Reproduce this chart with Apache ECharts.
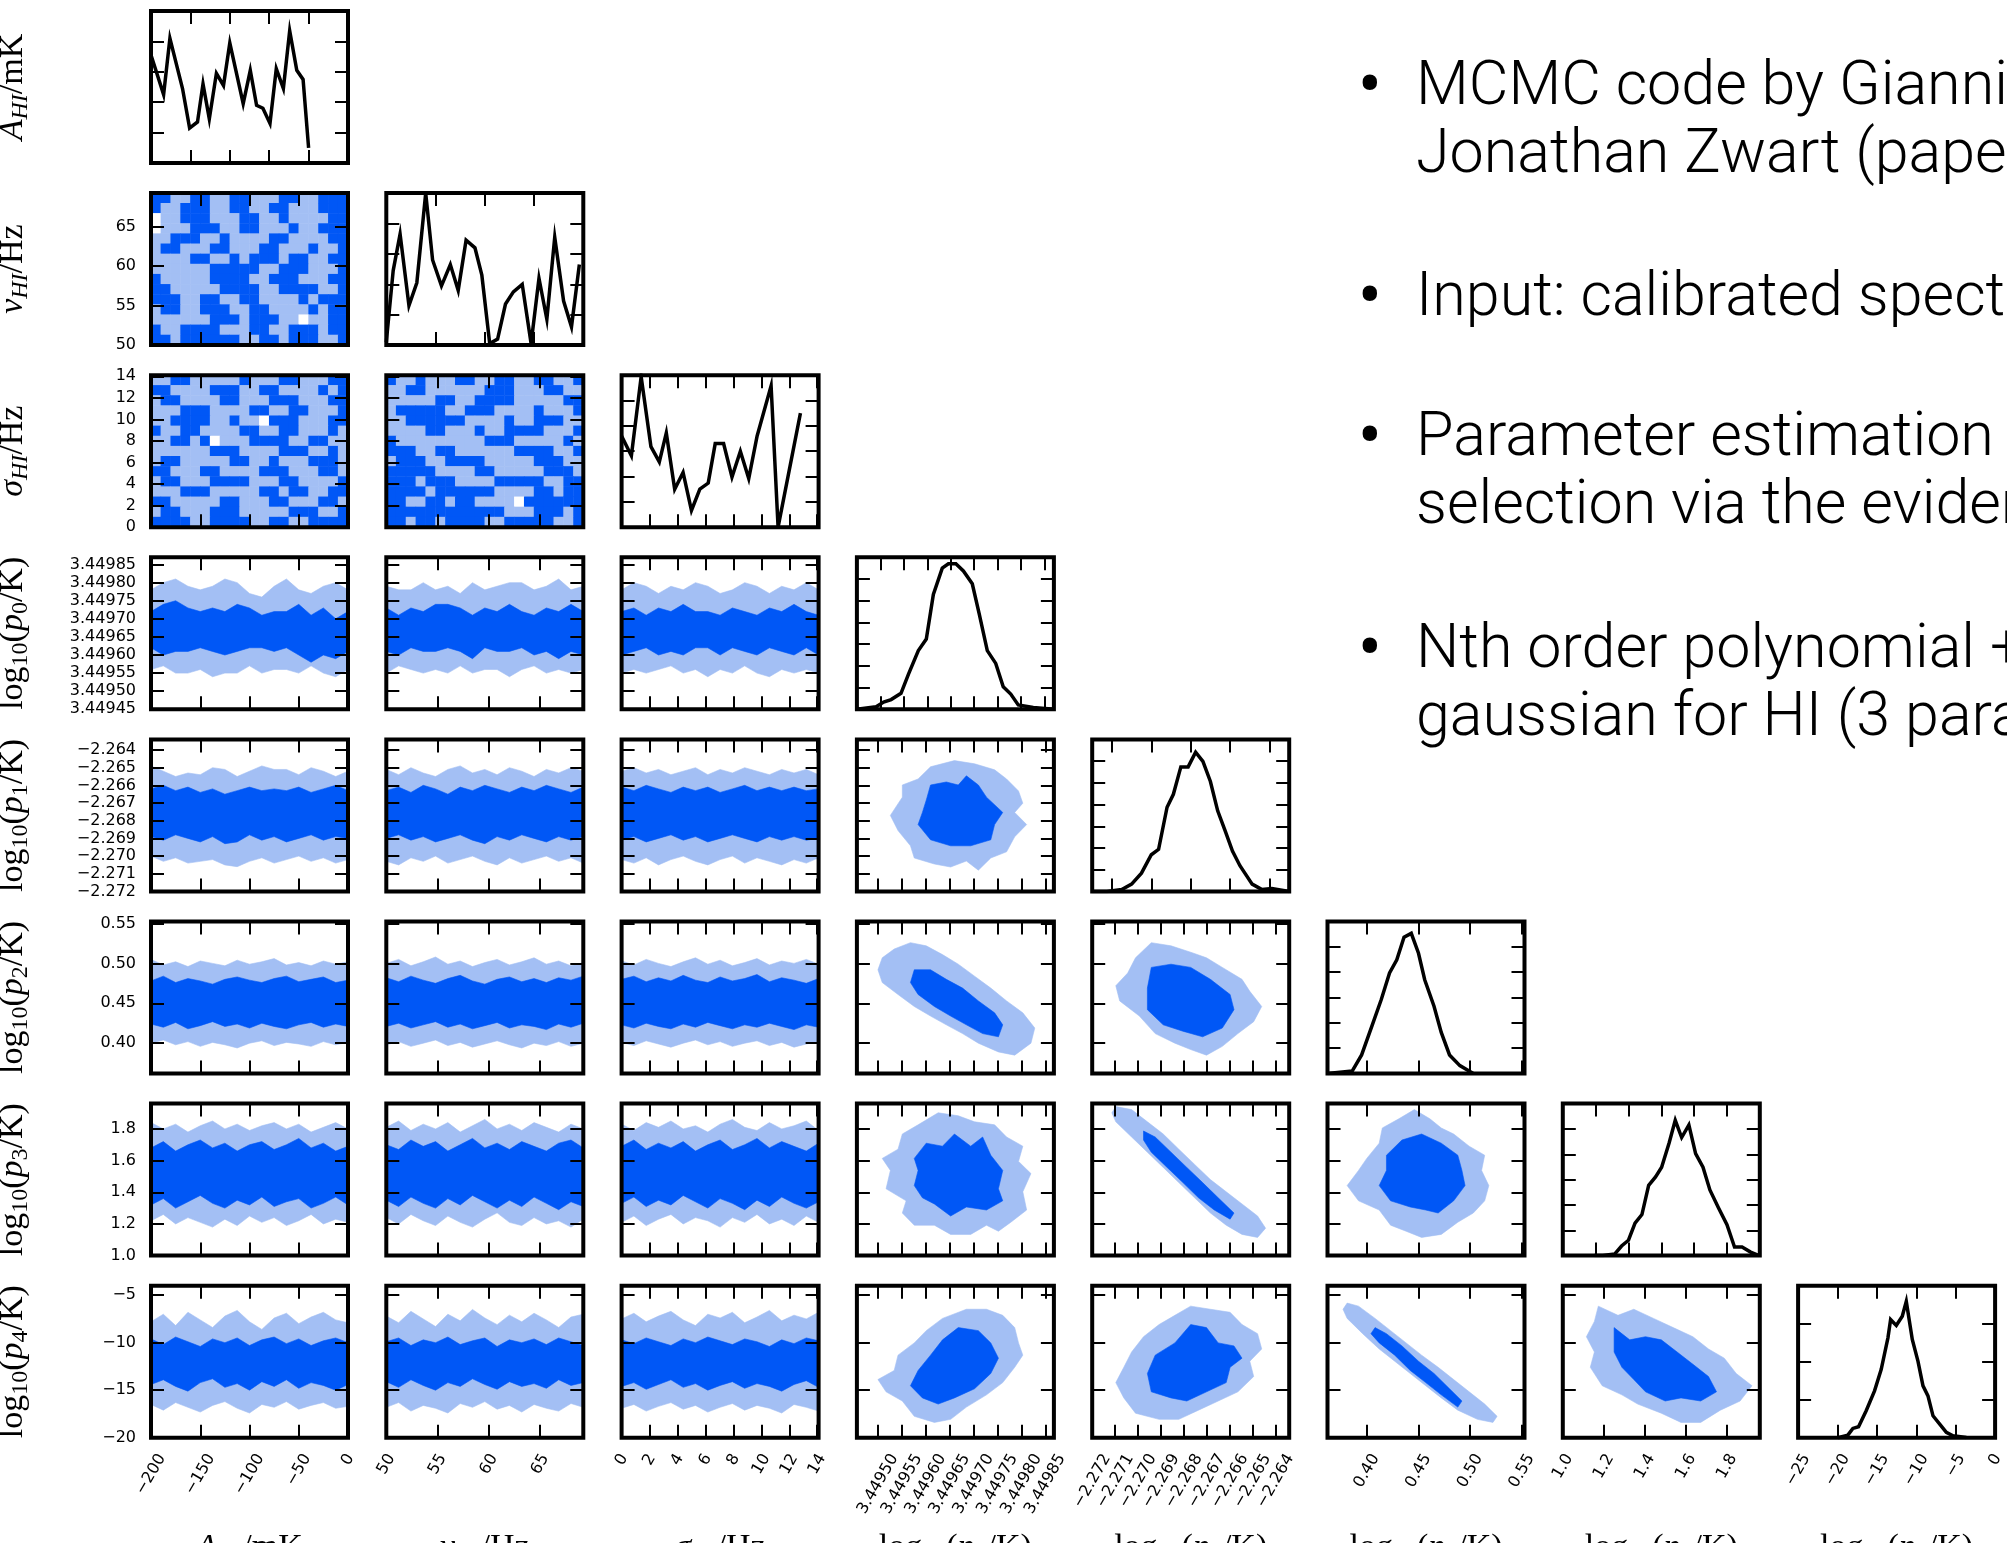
<!DOCTYPE html>
<html>
<head>
<meta charset="utf-8">
<script src="https://cdn.jsdelivr.net/npm/echarts@6/dist/echarts.min.js"></script>
<style>
html, body { margin: 0; padding: 0; background: #fff; }
#c { width: 2007px; height: 1543px; }
</style>
</head>
<body>
<div id="c"></div>
<script>
// ------------------------------------------------------------------
// Posterior triangle plot: HI line (A, nu, sigma) + 5 polynomial terms
// ------------------------------------------------------------------

// Axis ticks / labels (values in parameter units)
const ticksA      = [-200, -150, -100, -50, 0];
const ticksAHist  = [-150, -100, -50, 0];
const ticksNu     = [50, 55, 60, 65];
const ticksSigma  = [0, 2, 4, 6, 8, 10, 12, 14];
const ticksP0     = [3.44945, 3.4495, 3.44955, 3.4496, 3.44965, 3.4497, 3.44975, 3.4498, 3.44985];
const ticksP0x    = [3.4495, 3.44955, 3.4496, 3.44965, 3.4497, 3.44975, 3.4498, 3.44985];
const ticksP1     = [-2.272, -2.271, -2.27, -2.269, -2.268, -2.267, -2.266, -2.265, -2.264];
const ticksP1Hist = [-2.272, -2.27, -2.268, -2.266, -2.264];
const ticksP2     = [0.4, 0.45, 0.5, 0.55];
const ticksP3     = [1.0, 1.2, 1.4, 1.6, 1.8];
const ticksP4     = [-20, -15, -10, -5];
const ticksP4Hist = [-25, -20, -15, -10, -5, 0];

// Marginal (1D) posteriors, heights relative to panel height
const histAmp = [[-200,0.71],[-184,0.45],[-176,0.82],[-160,0.49],[-151,0.23],[-141,0.27],[-134,0.52],[-126,0.29],[-117,0.59],[-108,0.51],[-100,0.79],[-83,0.39],[-74,0.61],[-66,0.38],[-58,0.36],[-49,0.26],[-41,0.62],[-32,0.49],[-24,0.87],[-15,0.61],[-7,0.55],[0,0.10]];
const histNu = [[50,0.02],[50.7,0.49],[51.4,0.73],[52.3,0.26],[53.1,0.41],[54.0,1.0],[54.7,0.56],[55.6,0.39],[56.5,0.53],[57.3,0.36],[58.1,0.69],[59.0,0.64],[59.7,0.46],[60.5,0.01],[61.3,0.04],[62.1,0.27],[62.9,0.35],[63.8,0.40],[64.7,0.01],[65.5,0.44],[66.3,0.17],[67.1,0.71],[68.0,0.29],[68.8,0.12],[69.6,0.53]];
const histSigma = [[0,0.60],[0.7,0.47],[1.4,0.99],[2.1,0.53],[2.7,0.43],[3.2,0.62],[3.8,0.25],[4.4,0.36],[5.0,0.11],[5.6,0.25],[6.2,0.29],[6.7,0.55],[7.3,0.55],[7.9,0.33],[8.5,0.50],[9.1,0.32],[9.7,0.60],[10.7,0.93],[11.2,0.0],[12.8,0.75]];
const histP0 = [[3.44945,0.0],[3.449491,0.017],[3.449507,0.048],[3.449523,0.064],[3.449544,0.105],[3.44956,0.231],[3.449581,0.386],[3.449598,0.462],[3.449613,0.755],[3.449632,0.929],[3.449645,0.957],[3.449661,0.957],[3.449677,0.91],[3.449696,0.826],[3.449711,0.624],[3.449728,0.386],[3.449746,0.302],[3.449762,0.148],[3.449778,0.1],[3.449794,0.029],[3.449826,0.012],[3.44987,0]];
const histP1 = [[-2.273,0],[-2.27225,0],[-2.2715,0.012],[-2.271,0.048],[-2.2705,0.12],[-2.27,0.241],[-2.26963,0.277],[-2.2692,0.554],[-2.26888,0.639],[-2.2685,0.819],[-2.26813,0.819],[-2.26775,0.916],[-2.26738,0.855],[-2.267,0.723],[-2.26663,0.53],[-2.26625,0.398],[-2.26588,0.265],[-2.2655,0.169],[-2.26488,0.048],[-2.26438,0.012],[-2.26388,0.019],[-2.263,0]];
const histP2 = [[0.362,0],[0.386,0.017],[0.395,0.122],[0.405,0.313],[0.414,0.487],[0.422,0.661],[0.429,0.748],[0.436,0.896],[0.443,0.922],[0.45,0.791],[0.456,0.617],[0.465,0.443],[0.472,0.27],[0.48,0.122],[0.49,0.052],[0.503,0]];
const histP3 = [[0.992,0],[1.044,0],[1.117,0.011],[1.158,0.063],[1.2,0.101],[1.24,0.214],[1.282,0.27],[1.323,0.462],[1.365,0.518],[1.402,0.581],[1.448,0.743],[1.485,0.89],[1.524,0.777],[1.568,0.86],[1.609,0.671],[1.654,0.581],[1.696,0.432],[1.748,0.315],[1.8,0.203],[1.846,0.056],[1.892,0.056],[1.944,0.023],[1.996,0]];
const histP4 = [[-19.96,0],[-18.69,0.017],[-18.05,0.061],[-17.33,0.072],[-16.36,0.177],[-15.3,0.308],[-14.45,0.45],[-13.6,0.657],[-13.26,0.777],[-12.54,0.738],[-11.78,0.799],[-11.27,0.897],[-10.51,0.646],[-9.79,0.504],[-9.15,0.341],[-8.52,0.275],[-7.88,0.144],[-7.03,0.09],[-6.19,0.035],[-5.34,0.013],[-3.64,0.002]];

// 2D posteriors of the flat-prior line parameters: 0 = outside, 1 = 95%, 2 = 68% (rows top to bottom)
const levelsNuA = [
  "22112211221112211222","21122211221122111222","01122211122112111122","01112221122111211222",
  "11222112111122111122","12211122111221112112","11112211212221221122","11111122222112221112",
  "21111122221122211122","22111112222112222112","22211221122111121222","12211222112211112122",
  "11111122212221101122","21122221112211222122","22122222211221222112"];
const levelsSigmaA = [
  "11221111121112211122","22111122211221111212","12211112211122211122","11122211112211221112",
  "11222211211022211122","21122111122112211121","11221201112222112211","11111122211112221121",
  "12211111221121112221","22111221111222111221","12211122221112211112","11122211111221221122",
  "22111112211122111221","12211122211111222112","22221122221122112222"];
const levelsSigmaNu = [
  "21121112211221122112","11221111112221112211","11111221122221111122","12222211222111121112",
  "11222222111121122211","11112211121122221112","21111111112221111121","22211221111112222112",
  "12221122221111122211","22222111122111112221","22212221111222221122","22221222222111122122",
  "22112212211110222222","22222222222211122212","22122122221122222112"];

// x positions at which the credible-band edges are tabulated
const xSampleA     = [-200,-187.5,-175,-162.5,-150,-137.5,-125,-112.5,-100,-87.5,-75,-62.5,-50,-37.5,-25,-12.5,0];
const xSampleNu    = [50,51.2,52.4,53.6,54.8,56,57.2,58.4,59.6,60.8,62,63.2,64.4,65.6,66.8,68,69.2];
const xSampleSigma = [0,0.88,1.76,2.64,3.53,4.41,5.29,6.17,7.05,7.93,8.81,9.69,10.58,11.46,12.34,13.22,14.1];

// Band edges: [95% upper, 68% upper, 68% lower, 95% lower]
const bandP0_A = [
  [3.44978,3.4498,3.44981,3.44979,3.44978,3.44979,3.44981,3.4498,3.44977,3.44976,3.44979,3.44981,3.44978,3.44977,3.44979,3.4498,3.44978],
  [3.44972,3.44974,3.44975,3.44973,3.44972,3.44973,3.44972,3.44974,3.44973,3.44971,3.44972,3.44972,3.44974,3.44971,3.44973,3.4497,3.44972],
  [3.44962,3.4496,3.44961,3.44961,3.44962,3.44961,3.4496,3.44961,3.44962,3.44962,3.44961,3.44962,3.4496,3.44958,3.4496,3.44959,3.44961],
  [3.44956,3.44957,3.44955,3.44955,3.44956,3.44954,3.44955,3.44955,3.44957,3.44955,3.44956,3.44956,3.44955,3.44957,3.44955,3.44954,3.44956]];
const bandP0_Nu = [
  [3.44979,3.44978,3.44978,3.4498,3.44978,3.44979,3.44977,3.4498,3.44978,3.44979,3.4498,3.4498,3.44978,3.44979,3.44981,3.44978,3.44979],
  [3.44973,3.44971,3.44973,3.44972,3.44974,3.44974,3.44973,3.44971,3.44973,3.44972,3.44974,3.44972,3.44971,3.44973,3.44972,3.44974,3.44972],
  [3.44961,3.4496,3.44962,3.44961,3.44961,3.44962,3.44961,3.44959,3.44962,3.44961,3.44961,3.44962,3.4496,3.44961,3.44959,3.44961,3.4496],
  [3.44955,3.44957,3.44956,3.44955,3.44956,3.44955,3.44957,3.44955,3.44956,3.44956,3.44954,3.44956,3.44957,3.44955,3.44956,3.44955,3.44956]];
const bandP0_Sigma = [
  [3.44978,3.4498,3.44979,3.44977,3.44979,3.44978,3.4498,3.44979,3.44977,3.44978,3.4498,3.44979,3.44977,3.44979,3.44978,3.4498,3.44978],
  [3.44972,3.44973,3.44971,3.44973,3.44972,3.44974,3.44972,3.44972,3.44971,3.44973,3.44972,3.44971,3.44973,3.44972,3.44974,3.44972,3.44971],
  [3.4496,3.44961,3.44962,3.4496,3.44961,3.4496,3.44962,3.44962,3.4496,3.44962,3.44961,3.4496,3.44962,3.44961,3.4496,3.44962,3.4496],
  [3.44955,3.44956,3.44955,3.44956,3.44957,3.44955,3.44956,3.44954,3.44956,3.44955,3.44957,3.44955,3.44954,3.44956,3.44955,3.44956,3.44955]];
const bandP1_A = [
  [-2.2649,-2.2652,-2.2655,-2.2653,-2.2654,-2.265,-2.2651,-2.2655,-2.2652,-2.2649,-2.2651,-2.2651,-2.2654,-2.265,-2.2652,-2.2655,-2.2652],
  [-2.2662,-2.266,-2.2663,-2.2661,-2.2664,-2.2662,-2.2665,-2.2663,-2.2661,-2.2663,-2.2662,-2.2663,-2.2661,-2.2664,-2.2662,-2.266,-2.2663],
  [-2.2689,-2.2691,-2.2688,-2.269,-2.2692,-2.2689,-2.2693,-2.2692,-2.2688,-2.2691,-2.2689,-2.2692,-2.269,-2.2688,-2.2691,-2.2689,-2.269],
  [-2.27,-2.2703,-2.2701,-2.2704,-2.2703,-2.2702,-2.2705,-2.2706,-2.2703,-2.2701,-2.2704,-2.2702,-2.27,-2.2703,-2.2701,-2.2704,-2.2702]];
const bandP1_Nu = [
  [-2.2651,-2.2654,-2.265,-2.2653,-2.2655,-2.2651,-2.2649,-2.2653,-2.2651,-2.2654,-2.265,-2.2652,-2.2655,-2.2651,-2.2653,-2.265,-2.2652],
  [-2.2663,-2.2661,-2.2664,-2.266,-2.2662,-2.2665,-2.2661,-2.2663,-2.266,-2.2662,-2.2664,-2.2661,-2.2663,-2.266,-2.2662,-2.2664,-2.2661],
  [-2.269,-2.2688,-2.2691,-2.2689,-2.2692,-2.269,-2.2688,-2.2691,-2.2693,-2.2689,-2.2691,-2.2688,-2.269,-2.2692,-2.2689,-2.2691,-2.2689],
  [-2.2703,-2.2705,-2.2701,-2.2703,-2.27,-2.2704,-2.2702,-2.27,-2.2703,-2.2705,-2.2701,-2.2704,-2.2702,-2.27,-2.2703,-2.2701,-2.2704]];
const bandP1_Sigma = [
  [-2.2652,-2.265,-2.2653,-2.2651,-2.2654,-2.2652,-2.265,-2.2654,-2.2651,-2.2653,-2.265,-2.2652,-2.2654,-2.2651,-2.2653,-2.2651,-2.2654],
  [-2.2661,-2.2663,-2.266,-2.2662,-2.2664,-2.2661,-2.2663,-2.2661,-2.2664,-2.2662,-2.266,-2.2663,-2.2661,-2.2663,-2.2661,-2.2663,-2.2662],
  [-2.2691,-2.2689,-2.2692,-2.269,-2.2688,-2.2691,-2.2689,-2.2692,-2.269,-2.2688,-2.269,-2.2692,-2.2689,-2.2691,-2.2689,-2.2691,-2.269],
  [-2.2702,-2.2704,-2.2701,-2.2705,-2.2702,-2.27,-2.2703,-2.2705,-2.2702,-2.27,-2.2704,-2.2701,-2.2703,-2.2705,-2.2702,-2.2704,-2.2701]];
const bandP2_A = [
  [0.505,0.498,0.502,0.496,0.503,0.5,0.497,0.504,0.499,0.502,0.506,0.498,0.501,0.497,0.503,0.499,0.502],
  [0.478,0.484,0.476,0.481,0.478,0.474,0.48,0.483,0.479,0.476,0.481,0.484,0.477,0.48,0.483,0.476,0.479],
  [0.424,0.42,0.426,0.418,0.422,0.427,0.421,0.424,0.419,0.425,0.421,0.418,0.423,0.426,0.42,0.424,0.421],
  [0.4,0.404,0.398,0.402,0.396,0.401,0.398,0.394,0.4,0.403,0.397,0.401,0.399,0.396,0.402,0.398,0.401]];
const bandP2_Nu = [
  [0.5,0.505,0.497,0.502,0.508,0.499,0.503,0.496,0.501,0.505,0.498,0.502,0.507,0.499,0.503,0.497,0.501],
  [0.482,0.477,0.484,0.479,0.475,0.481,0.485,0.478,0.474,0.48,0.483,0.477,0.481,0.476,0.482,0.479,0.484],
  [0.421,0.425,0.419,0.423,0.427,0.42,0.424,0.418,0.422,0.426,0.419,0.423,0.421,0.417,0.424,0.42,0.425],
  [0.398,0.402,0.396,0.4,0.404,0.397,0.401,0.395,0.399,0.403,0.398,0.394,0.4,0.397,0.402,0.396,0.4]];
const bandP2_Sigma = [
  [0.503,0.498,0.505,0.5,0.496,0.502,0.507,0.499,0.504,0.497,0.501,0.506,0.498,0.503,0.5,0.505,0.499],
  [0.48,0.484,0.477,0.482,0.478,0.485,0.479,0.476,0.483,0.478,0.481,0.486,0.477,0.482,0.479,0.475,0.481],
  [0.423,0.419,0.425,0.421,0.418,0.424,0.42,0.426,0.422,0.418,0.423,0.42,0.425,0.421,0.417,0.423,0.42],
  [0.401,0.397,0.403,0.399,0.395,0.4,0.404,0.398,0.402,0.396,0.4,0.403,0.397,0.401,0.395,0.399,0.402]];
const bandP3_A = [
  [1.84,1.8,1.83,1.78,1.82,1.85,1.8,1.83,1.79,1.82,1.84,1.8,1.83,1.78,1.81,1.84,1.8],
  [1.68,1.72,1.66,1.7,1.73,1.68,1.71,1.66,1.7,1.72,1.67,1.7,1.74,1.68,1.71,1.66,1.69],
  [1.32,1.36,1.3,1.34,1.38,1.33,1.3,1.35,1.32,1.37,1.31,1.34,1.36,1.3,1.33,1.37,1.32],
  [1.22,1.26,1.2,1.24,1.21,1.18,1.23,1.19,1.25,1.21,1.24,1.19,1.22,1.26,1.2,1.23,1.21]];
const bandP3_Nu = [
  [1.81,1.85,1.79,1.83,1.8,1.84,1.78,1.82,1.86,1.8,1.83,1.79,1.84,1.81,1.78,1.83,1.8],
  [1.7,1.67,1.73,1.69,1.72,1.66,1.7,1.74,1.68,1.71,1.67,1.72,1.69,1.66,1.71,1.73,1.68],
  [1.35,1.31,1.37,1.33,1.3,1.36,1.32,1.38,1.34,1.3,1.35,1.31,1.37,1.33,1.29,1.34,1.31],
  [1.24,1.2,1.26,1.22,1.19,1.25,1.21,1.18,1.23,1.27,1.21,1.19,1.24,1.2,1.22,1.18,1.23]];
const bandP3_Sigma = [
  [1.83,1.79,1.84,1.81,1.85,1.8,1.82,1.78,1.83,1.86,1.81,1.79,1.84,1.8,1.82,1.85,1.79],
  [1.69,1.73,1.67,1.71,1.68,1.72,1.66,1.7,1.73,1.67,1.7,1.74,1.68,1.72,1.69,1.66,1.71],
  [1.33,1.37,1.31,1.35,1.32,1.38,1.34,1.3,1.36,1.33,1.29,1.35,1.31,1.37,1.33,1.3,1.34],
  [1.21,1.25,1.19,1.23,1.26,1.2,1.24,1.22,1.18,1.24,1.21,1.26,1.2,1.23,1.19,1.25,1.21]];
const bandP4_A = [
  [-7.8,-7.0,-8.2,-6.8,-7.6,-8.4,-7.2,-6.6,-7.8,-8.6,-7.4,-6.9,-8.0,-7.3,-6.8,-7.6,-7.9],
  [-9.6,-10.2,-9.4,-9.9,-10.4,-9.6,-10.0,-9.5,-10.3,-9.7,-9.4,-10.1,-9.6,-10.3,-9.8,-9.5,-10.0],
  [-14.4,-13.9,-14.6,-15.1,-14.2,-13.8,-14.7,-14.3,-15.0,-14.1,-14.6,-13.9,-14.8,-14.2,-14.5,-15.0,-14.4],
  [-16.5,-17.1,-16.3,-16.8,-17.3,-16.6,-16.2,-16.9,-17.4,-16.5,-16.8,-16.2,-17.0,-16.6,-16.3,-16.9,-16.7]];
const bandP4_Nu = [
  [-7.2,-7.9,-6.7,-7.5,-8.3,-7.0,-7.7,-6.5,-7.4,-8.1,-7.1,-7.8,-6.9,-7.6,-8.4,-7.3,-7.0],
  [-9.9,-9.5,-10.3,-9.7,-10.0,-9.4,-10.2,-9.8,-9.5,-10.4,-9.7,-10.0,-9.6,-10.2,-9.5,-9.9,-10.3],
  [-14.1,-14.7,-13.9,-14.5,-15.0,-14.2,-14.6,-13.8,-14.4,-14.9,-14.1,-14.6,-14.3,-14.8,-13.9,-14.5,-14.2],
  [-16.8,-16.3,-17.2,-16.6,-16.9,-17.4,-16.4,-16.8,-16.2,-17.0,-16.6,-17.3,-16.5,-16.9,-17.2,-16.4,-16.8]];
const bandP4_Sigma = [
  [-7.5,-6.9,-7.8,-7.2,-6.7,-7.6,-8.2,-7.0,-7.4,-6.8,-7.9,-7.3,-6.6,-7.7,-7.1,-7.5,-6.8],
  [-9.7,-10.1,-9.5,-9.9,-10.3,-9.6,-10.0,-9.4,-9.8,-10.2,-9.6,-9.9,-10.4,-9.7,-10.1,-9.5,-9.8],
  [-14.6,-14.2,-14.9,-14.4,-13.9,-14.7,-14.3,-15.0,-14.5,-14.1,-14.8,-14.3,-14.6,-15.1,-14.4,-14.0,-14.7],
  [-16.9,-16.5,-17.2,-16.7,-16.3,-17.0,-16.6,-17.3,-16.8,-16.4,-17.1,-16.6,-16.9,-17.4,-16.5,-16.8,-17.2]];

// Credible contours between polynomial terms: [x, y] vertices (95% = light, 68% = dark)
const p1p0Light = [[3.44966,-2.2646],[3.449702,-2.26478],[3.449744,-2.26512],[3.449769,-2.26564],[3.449794,-2.26632],[3.449803,-2.26701],[3.449786,-2.26753],[3.449811,-2.26822],[3.449786,-2.26891],[3.449769,-2.26976],[3.449736,-2.27011],[3.44971,-2.2708],[3.449685,-2.27028],[3.449652,-2.27062],[3.449618,-2.27045],[3.449576,-2.27011],[3.449568,-2.26942],[3.449542,-2.26856],[3.449526,-2.2677],[3.449551,-2.26667],[3.449551,-2.26598],[3.449584,-2.26564],[3.44961,-2.26495]];
const p1p0Dark = [[3.44961,-2.26598],[3.449643,-2.26581],[3.449668,-2.26598],[3.449685,-2.26546],[3.44971,-2.26598],[3.449727,-2.26667],[3.449761,-2.26753],[3.449744,-2.26822],[3.449736,-2.26908],[3.449694,-2.26942],[3.449652,-2.26942],[3.44961,-2.26908],[3.449584,-2.26822],[3.449593,-2.26753],[3.449601,-2.26684]];
const p2p0Light = [[3.449509,0.507],[3.449534,0.518],[3.449568,0.526],[3.449601,0.522],[3.449635,0.511],[3.449668,0.499],[3.449702,0.484],[3.449736,0.469],[3.449769,0.453],[3.449803,0.438],[3.449828,0.419],[3.44982,0.4],[3.449786,0.385],[3.449752,0.389],[3.44971,0.4],[3.449677,0.412],[3.449643,0.423],[3.44961,0.434],[3.449576,0.446],[3.449542,0.461],[3.449509,0.476],[3.4495,0.492]];
const p2p0Dark = [[3.449576,0.492],[3.44961,0.492],[3.449643,0.48],[3.449677,0.469],[3.44971,0.453],[3.449744,0.438],[3.449761,0.423],[3.449752,0.408],[3.449719,0.412],[3.449685,0.423],[3.449652,0.434],[3.449618,0.446],[3.449584,0.461],[3.449568,0.476]];
const p2p1Light = [[-2.26942,0.526],[-2.26856,0.522],[-2.2677,0.514],[-2.26701,0.507],[-2.26632,0.495],[-2.26546,0.48],[-2.26512,0.465],[-2.2646,0.446],[-2.26495,0.427],[-2.26564,0.412],[-2.26632,0.396],[-2.26701,0.385],[-2.2677,0.392],[-2.26839,0.4],[-2.26925,0.412],[-2.26994,0.434],[-2.2708,0.453],[-2.27097,0.472],[-2.27045,0.488],[-2.27011,0.507]];
const p2p1Dark = [[-2.26942,0.495],[-2.26856,0.499],[-2.2677,0.495],[-2.26684,0.48],[-2.26598,0.461],[-2.26581,0.442],[-2.26632,0.419],[-2.26718,0.408],[-2.26804,0.415],[-2.2689,0.423],[-2.26959,0.442],[-2.26959,0.469]];
const p3p0Light = [[3.449626,1.902],[3.449668,1.883],[3.449702,1.845],[3.449744,1.826],[3.449769,1.749],[3.449803,1.691],[3.449794,1.595],[3.44982,1.518],[3.449803,1.403],[3.449811,1.288],[3.449778,1.211],[3.449752,1.154],[3.449727,1.192],[3.449694,1.134],[3.449652,1.134],[3.449618,1.192],[3.449576,1.192],[3.449551,1.269],[3.449559,1.346],[3.449517,1.422],[3.449526,1.538],[3.449509,1.614],[3.449542,1.672],[3.449551,1.768],[3.449584,1.826]];
const p3p0Dark = [[3.449601,1.71],[3.449635,1.691],[3.44966,1.768],[3.449694,1.691],[3.449719,1.749],[3.449736,1.634],[3.449761,1.538],[3.449752,1.422],[3.449761,1.346],[3.449727,1.288],[3.449685,1.307],[3.449652,1.25],[3.449618,1.326],[3.449593,1.365],[3.449576,1.442],[3.449584,1.538],[3.449576,1.614]];
const p3p1Light = [[-2.27097,1.941],[-2.27028,1.922],[-2.26959,1.845],[-2.2689,1.768],[-2.26822,1.672],[-2.26753,1.576],[-2.26684,1.48],[-2.26615,1.403],[-2.26546,1.326],[-2.26478,1.25],[-2.26443,1.173],[-2.26478,1.115],[-2.26546,1.134],[-2.26615,1.192],[-2.26684,1.269],[-2.26753,1.365],[-2.26822,1.461],[-2.2689,1.557],[-2.26959,1.653],[-2.27028,1.749],[-2.27097,1.845],[-2.27114,1.902]];
const p3p1Dark = [[-2.26976,1.787],[-2.26925,1.749],[-2.26856,1.653],[-2.26787,1.557],[-2.26718,1.461],[-2.2665,1.365],[-2.26581,1.269],[-2.26598,1.23],[-2.26667,1.288],[-2.26736,1.365],[-2.26804,1.461],[-2.26873,1.557],[-2.26942,1.653],[-2.26976,1.73]];
const p3p2Light = [[0.446,1.922],[0.461,1.864],[0.472,1.806],[0.484,1.768],[0.499,1.691],[0.514,1.634],[0.511,1.538],[0.518,1.442],[0.514,1.346],[0.503,1.269],[0.488,1.211],[0.472,1.134],[0.453,1.115],[0.438,1.154],[0.423,1.192],[0.412,1.288],[0.392,1.346],[0.381,1.442],[0.392,1.538],[0.4,1.614],[0.412,1.71],[0.415,1.806],[0.431,1.864]];
const p3p2Dark = [[0.434,1.73],[0.453,1.768],[0.472,1.71],[0.488,1.634],[0.492,1.538],[0.495,1.442],[0.484,1.346],[0.469,1.269],[0.457,1.288],[0.442,1.307],[0.423,1.346],[0.412,1.442],[0.419,1.538],[0.419,1.634]];
const p4p0Light = [[3.449685,-6.48],[3.449727,-6.48],[3.449761,-7.12],[3.449786,-8.41],[3.449794,-10.02],[3.449803,-11.31],[3.449786,-12.59],[3.449761,-14.2],[3.449727,-15.49],[3.449685,-16.78],[3.449652,-18.07],[3.449618,-18.39],[3.449576,-17.75],[3.449551,-16.14],[3.449517,-15.17],[3.4495,-13.88],[3.449534,-12.92],[3.449542,-11.31],[3.449576,-10.02],[3.449601,-8.73],[3.449635,-7.44]];
const p4p0Dark = [[3.449668,-8.41],[3.44971,-8.73],[3.449736,-10.02],[3.449752,-11.63],[3.449736,-13.24],[3.449702,-14.85],[3.44966,-15.81],[3.449626,-16.46],[3.449593,-15.81],[3.449568,-14.53],[3.449584,-12.92],[3.44961,-11.31],[3.449635,-9.7]];
const p4p1Light = [[-2.2677,-6.15],[-2.26684,-6.48],[-2.26598,-6.8],[-2.26546,-8.09],[-2.26478,-9.05],[-2.2646,-10.66],[-2.26512,-11.95],[-2.26495,-13.56],[-2.26564,-15.17],[-2.2665,-16.14],[-2.26736,-17.1],[-2.26822,-18.07],[-2.26908,-18.07],[-2.27011,-17.42],[-2.27062,-15.81],[-2.27097,-14.2],[-2.27062,-12.59],[-2.27028,-10.98],[-2.26976,-9.37],[-2.26908,-8.09],[-2.26839,-7.12]];
const p4p1Dark = [[-2.2677,-8.09],[-2.26701,-8.41],[-2.2665,-10.02],[-2.26581,-10.34],[-2.26546,-11.63],[-2.26598,-12.59],[-2.26615,-14.2],[-2.26701,-15.17],[-2.26787,-16.14],[-2.26856,-15.81],[-2.26942,-15.17],[-2.26959,-13.24],[-2.26925,-11.31],[-2.26839,-10.02]];
const p4p2Light = [[0.381,-5.83],[0.392,-6.15],[0.408,-7.44],[0.423,-8.73],[0.438,-10.02],[0.453,-11.31],[0.469,-12.59],[0.484,-13.88],[0.499,-15.17],[0.514,-16.46],[0.526,-17.75],[0.522,-18.39],[0.507,-18.07],[0.488,-17.1],[0.472,-15.81],[0.457,-14.53],[0.442,-13.24],[0.427,-11.95],[0.412,-10.66],[0.396,-9.05],[0.381,-7.44],[0.377,-6.48]];
const p4p2Dark = [[0.408,-8.41],[0.419,-9.05],[0.434,-10.34],[0.45,-11.95],[0.465,-13.24],[0.48,-14.85],[0.492,-16.14],[0.488,-16.78],[0.472,-15.49],[0.457,-14.2],[0.442,-12.92],[0.427,-11.31],[0.412,-10.02],[0.404,-9.05]];
const p4p3Light = [[1.173,-6.15],[1.269,-7.12],[1.346,-6.48],[1.442,-7.44],[1.538,-8.41],[1.634,-9.37],[1.71,-10.66],[1.787,-11.63],[1.845,-13.24],[1.922,-14.53],[1.864,-16.14],[1.768,-17.1],[1.672,-18.39],[1.576,-18.39],[1.48,-17.42],[1.365,-16.46],[1.288,-15.49],[1.192,-14.53],[1.134,-12.59],[1.154,-10.98],[1.115,-9.37],[1.154,-7.76]];
const p4p3Dark = [[1.25,-8.41],[1.326,-9.7],[1.403,-9.37],[1.48,-9.7],[1.557,-10.98],[1.634,-12.27],[1.71,-13.56],[1.749,-15.17],[1.672,-16.14],[1.576,-15.81],[1.499,-16.14],[1.403,-15.17],[1.346,-13.88],[1.288,-12.59],[1.25,-10.98]];

// Notes beside the figure
const notes = [
  { bullet: true,  text: 'MCMC code by Gianni Bernardi and' },
  { bullet: false, text: 'Jonathan Zwart (paper in prep.)' },
  { bullet: true,  text: 'Input: calibrated spectrum' },
  { bullet: true,  text: 'Parameter estimation and model' },
  { bullet: false, text: 'selection via the evidence' },
  { bullet: true,  text: 'Nth order polynomial + 1' },
  { bullet: false, text: 'gaussian for HI (3 params)' }
];

// ------------------------------------------------------------------
const LIGHT = '#a3bff4', DARK = '#0057f6';
const SERIF = '"Liberation Serif", "DejaVu Serif", serif';
const SANS = '"DejaVu Sans", sans-serif';
const NOTE_FONT = 'Roboto, "Liberation Sans", sans-serif';

// panel geometry
const X0 = 151, DX = 235.3, PW = 197;
const Y0 = 11, DY = 182.1, PH = 152;

const titles = [
  '{it|A}{si|HI}{rm|/mK}',
  '{it|ν}{si|HI}{rm|/Hz}',
  '{it|σ}{si|HI}{rm|/Hz}',
  '{rm|log}{sr|10}{rm|(}{it|p}{sr|0}{rm|/K)}',
  '{rm|log}{sr|10}{rm|(}{it|p}{sr|1}{rm|/K)}',
  '{rm|log}{sr|10}{rm|(}{it|p}{sr|2}{rm|/K)}',
  '{rm|log}{sr|10}{rm|(}{it|p}{sr|3}{rm|/K)}',
  '{rm|log}{sr|10}{rm|(}{it|p}{sr|4}{rm|/K)}'
];
const RICH = {
  rm: { fontFamily: SERIF, fontSize: 34, color: '#000', lineHeight: 40 },
  it: { fontFamily: SERIF, fontSize: 34, fontStyle: 'italic', color: '#000', lineHeight: 40 },
  sr: { fontFamily: SERIF, fontSize: 24, color: '#000', lineHeight: 14, verticalAlign: 'bottom' },
  si: { fontFamily: SERIF, fontSize: 24, fontStyle: 'italic', color: '#000', lineHeight: 14, verticalAlign: 'bottom' }
};

const range2dX = [[-200, 0], [50, 69.2], [0, 14.1], [3.449456, 3.449868], [-2.272, -2.2634], [0.362, 0.5525], [1.0, 1.96]];
const range2dY = [null, [50, 69.2], [0, 14.1], [3.44945, 3.44987], [-2.272, -2.2634], [0.362, 0.5525], [1.0, 1.96], [-20, -4.0]];
const rangeDiagX = [[-200, 50], [50, 70], [0, 14.1], [3.44945, 3.44987], [-2.273, -2.263], [0.362, 0.5525], [0.8, 2.0], [-25, 0]];
const ticks2dX = [ticksA, ticksNu, ticksSigma, ticksP0x, ticksP1, ticksP2, ticksP3];
const ticks2dY = [null, ticksNu, ticksSigma, ticksP0, ticksP1, ticksP2, ticksP3, ticksP4];
const ticksDiagX = [ticksAHist, ticksNu, ticksSigma, ticksP0x, ticksP1Hist, ticksP2, ticksP3, ticksP4Hist];
const ticksDiagY = [
  [0.2, 0.4, 0.6, 0.8], [0.2, 0.4, 0.6, 0.8], [0.1667, 0.3333, 0.5, 0.6667, 0.8333],
  [0.1429, 0.2857, 0.4286, 0.5714, 0.7143, 0.8571], [0.1429, 0.2857, 0.4286, 0.5714, 0.7143, 0.8571],
  [0.1667, 0.3333, 0.5, 0.6667, 0.8333], [0.1667, 0.3333, 0.5, 0.6667, 0.8333], [0.25, 0.5, 0.75]
];
const decimals = [0, 0, 0, 5, 3, 2, 1, 0];
const bottomLabels = [ticksA, ticksNu, ticksSigma, ticksP0x, ticksP1, ticksP2, ticksP3, ticksP4Hist];
const hists = [histAmp, histNu, histSigma, histP0, histP1, histP2, histP3, histP4];
const xSamples = [xSampleA, xSampleNu, xSampleSigma];
const bands = {
  '3,0': bandP0_A, '3,1': bandP0_Nu, '3,2': bandP0_Sigma,
  '4,0': bandP1_A, '4,1': bandP1_Nu, '4,2': bandP1_Sigma,
  '5,0': bandP2_A, '5,1': bandP2_Nu, '5,2': bandP2_Sigma,
  '6,0': bandP3_A, '6,1': bandP3_Nu, '6,2': bandP3_Sigma,
  '7,0': bandP4_A, '7,1': bandP4_Nu, '7,2': bandP4_Sigma
};
const contours = {
  '4,3': [p1p0Light, p1p0Dark], '5,3': [p2p0Light, p2p0Dark], '5,4': [p2p1Light, p2p1Dark],
  '6,3': [p3p0Light, p3p0Dark], '6,4': [p3p1Light, p3p1Dark], '6,5': [p3p2Light, p3p2Dark],
  '7,3': [p4p0Light, p4p0Dark], '7,4': [p4p1Light, p4p1Dark], '7,5': [p4p2Light, p4p2Dark], '7,6': [p4p3Light, p4p3Dark]
};
const levelGrids = { '1,0': levelsNuA, '2,0': levelsSigmaA, '2,1': levelsSigmaNu };

function fmt(v, d) { return v.toFixed(d).replace('-', '\u2212'); }
function gridIndex(r, c) { return r * (r + 1) / 2 + c; }

function valueAxis(g, pos, range, ticks, extra) {
  return Object.assign({
    type: 'value', gridIndex: g, position: pos,
    min: range[0], max: range[1],
    axisLine: { show: false, onZero: false },
    splitLine: { show: false },
    axisTick: { show: true, inside: true, length: 13, lineStyle: { color: '#000', width: 2 }, customValues: ticks },
    axisLabel: { show: false },
    z: 10
  }, extra || {});
}

function polygonSeries(g, polys) {
  return {
    type: 'custom', xAxisIndex: 2 * g, yAxisIndex: 2 * g, clip: true, silent: true, z: 2,
    data: polys.map(p => p.pts[0]),
    renderItem: (params, api) => {
      const p = polys[params.dataIndex];
      return {
        type: 'polygon',
        shape: { points: p.pts.map(pt => api.coord(pt)) },
        style: { fill: p.color, stroke: p.color, lineWidth: 0.6 }
      };
    }
  };
}

const grids = [], xAxes = [], yAxes = [], series = [];
const heatmapSeriesIdx = [];
const catAxes = [];

for (let r = 0; r < 8; r++) {
  for (let c = 0; c <= r; c++) {
    const g = gridIndex(r, c);
    const diag = r === c;
    grids.push({
      left: X0 + c * DX, top: Y0 + r * DY, width: PW, height: PH,
      show: true, borderColor: '#000', borderWidth: 4, backgroundColor: 'transparent',
      z: 10, containLabel: false, outerBoundsMode: 'none'
    });
    const xr = diag ? rangeDiagX[c] : range2dX[c];
    const yr = diag ? [0, 1] : range2dY[r];
    const xt = diag ? ticksDiagX[c] : ticks2dX[c];
    const yt = diag ? ticksDiagY[c] : ticks2dY[r];

    const bottomExtra = r === 7 ? {
      name: titles[c], nameLocation: 'middle', nameGap: 90,
      nameTextStyle: { rich: RICH }
    } : null;
    xAxes.push(valueAxis(g, 'bottom', xr, xt, bottomExtra));
    xAxes.push(valueAxis(g, 'top', xr, xt));

    let leftExtra = null;
    if (c === 0) {
      leftExtra = {
        name: titles[r], nameLocation: 'middle', nameGap: 118, nameRotate: 90,
        nameTextStyle: { rich: RICH }
      };
      if (r > 0) {
        const d = decimals[r];
        leftExtra.axisLabel = {
          show: true, customValues: yt, margin: 15, fontSize: 16, fontFamily: SANS, color: '#000',
          showMinLabel: true, showMaxLabel: true, formatter: v => fmt(v, d)
        };
      }
    }
    yAxes.push(valueAxis(g, 'left', yr, yt, leftExtra));
    yAxes.push(valueAxis(g, 'right', yr, yt));

    const key = r + ',' + c;
    if (diag) {
      series.push({
        type: 'line', xAxisIndex: 2 * g, yAxisIndex: 2 * g, data: hists[c],
        showSymbol: false, symbol: 'none', clip: true, silent: true, z: 5,
        lineStyle: { color: '#000', width: 3.5, join: 'miter' }
      });
    } else if (levelGrids[key]) {
      const rows = levelGrids[key];
      const nx = rows[0].length, ny = rows.length;
      const cells = [];
      rows.forEach((row, ri) => {
        for (let i = 0; i < nx; i++) cells.push([i, ny - 1 - ri, +row[i]]);
      });
      catAxes.push({ g, nx, ny });
      heatmapSeriesIdx.push(series.length);
      series.push({ type: 'heatmap', _cat: catAxes.length - 1, data: cells, silent: true, z: 2 });
    } else if (bands[key]) {
      const xs = xSamples[c];
      const [lt, dt, db, lb] = bands[key];
      const lightPts = lb.map((y, i) => [xs[i], y]).concat(lt.map((y, i) => [xs[i], y]).reverse());
      const darkPts = db.map((y, i) => [xs[i], y]).concat(dt.map((y, i) => [xs[i], y]).reverse());
      series.push(polygonSeries(g, [{ pts: lightPts, color: LIGHT }, { pts: darkPts, color: DARK }]));
    } else if (contours[key]) {
      const [light, dark] = contours[key];
      series.push(polygonSeries(g, [{ pts: light, color: LIGHT }, { pts: dark, color: DARK }]));
    }
  }
}

// hidden category axes carrying the level grids
catAxes.forEach((ca, k) => {
  const xi = xAxes.length, yi = yAxes.length;
  xAxes.push({ type: 'category', gridIndex: ca.g, show: false, data: Array.from({ length: ca.nx }, (_, i) => i) });
  yAxes.push({ type: 'category', gridIndex: ca.g, show: false, data: Array.from({ length: ca.ny }, (_, i) => i) });
  const s = series.find(sr => sr._cat === k);
  s.xAxisIndex = xi; s.yAxisIndex = yi;
  delete s._cat;
});

const chart = echarts.init(document.getElementById('c'), null, { renderer: 'canvas', width: 2007, height: 1543 });
chart.setOption({
  backgroundColor: '#fff',
  animation: false,
  grid: grids,
  xAxis: xAxes,
  yAxis: yAxes,
  visualMap: {
    type: 'piecewise', show: false, dimension: 2, seriesIndex: heatmapSeriesIdx,
    pieces: [{ value: 0, color: '#ffffff' }, { value: 1, color: LIGHT }, { value: 2, color: DARK }]
  },
  series: series
});

// rotated tick labels under the bottom row, centred on their ticks
const measure = document.createElement('canvas').getContext('2d');
measure.font = '16px "DejaVu Sans"';
const axisY = Y0 + 7 * DY + PH;
const elements = [];
const ang = Math.PI / 3;
bottomLabels.forEach((vals, c) => {
  const g = gridIndex(7, c);
  vals.forEach(v => {
    const txt = fmt(v, decimals[c]);
    const px = chart.convertToPixel({ xAxisIndex: 2 * g }, v);
    const w = measure.measureText(txt).width;
    const h = w * Math.sin(ang) + 15 * Math.cos(ang);
    elements.push({
      type: 'text', x: px, y: axisY + 14 + h / 2, rotation: ang, silent: true,
      style: { text: txt, align: 'center', verticalAlign: 'middle', fontSize: 16, fontFamily: SANS, fill: '#000' }
    });
  });
});

// notes on the right
const noteBaselines = [109, 177, 320, 460, 528, 672, 740];
notes.forEach((n, i) => {
  const y = noteBaselines[i] - 20;
  elements.push({
    type: 'text', x: 1416, y: y, silent: true,
    style: { text: n.text, align: 'left', verticalAlign: 'middle', fontSize: 61, fontWeight: 300, fontFamily: NOTE_FONT, fill: '#000' }
  });
  if (n.bullet) {
    elements.push({
      type: 'text', x: 1370, y: y + 2, silent: true,
      style: { text: '\u2022', align: 'center', verticalAlign: 'middle', fontSize: 72, fontFamily: NOTE_FONT, fill: '#000' }
    });
  }
});
chart.setOption({ graphic: { elements: elements } });
</script>
</body>
</html>
